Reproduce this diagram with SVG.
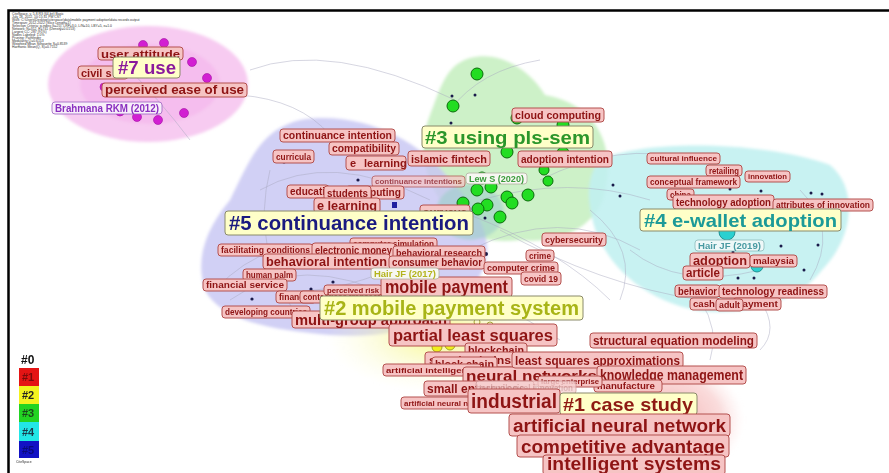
<svg xmlns="http://www.w3.org/2000/svg" width="889" height="473" viewBox="0 0 889 473">
<defs>
<style>
text{font-family:"Liberation Sans",Arial,sans-serif;font-weight:bold}
.lb rect{fill:#f6c4c4;stroke:#b4504e;stroke-width:1}
.lb text{fill:#8e1414}
.cl rect{fill:#ffffc8;stroke:#8a8a6a;stroke-width:1}
.au rect{fill:#f7f7f2;stroke:#b0b0a0;stroke-width:0.8}
.hd{font-family:"Liberation Sans",Arial,sans-serif;font-weight:normal;font-size:3.4px;fill:#333}
.con path{fill:none;stroke:#a8a8c0;stroke-width:0.8;opacity:0.6}
.dot{fill:#1a1a4a}
.gn{fill:#22dd22;stroke:#0a6a0a;stroke-width:1}
.mg{fill:#d21fd2;stroke:#a010a0;stroke-width:0.6}
</style>
<radialGradient id="gy" cx="0.5" cy="0.5" r="0.5"><stop offset="0" stop-color="#f6f67a" stop-opacity="0.9"/><stop offset="1" stop-color="#fafad2" stop-opacity="0"/></radialGradient>
<radialGradient id="gr" cx="0.5" cy="0.5" r="0.5"><stop offset="0" stop-color="#ec8a8a" stop-opacity="0.7"/><stop offset="0.7" stop-color="#f5b8b8" stop-opacity="0.5"/><stop offset="1" stop-color="#fbdede" stop-opacity="0"/></radialGradient>
<filter id="sf" x="-10%" y="-10%" width="120%" height="120%"><feGaussianBlur stdDeviation="1.5"/></filter>
</defs>
<rect width="889" height="473" fill="#ffffff"/>

<!-- header -->
<g id="header">
<text class="hd" x="12" y="15">CiteSpace, v. 5.8.R3 (64-bit) Basic</text>
<text class="hd" x="12" y="18">July 18, 2022, 10:15:31 PM CST</text>
<text class="hd" x="12" y="21">WoS: C:\Users\Desktop\citespace\data\mobile payment adoption\data records output</text>
<text class="hd" x="12" y="24">Timespan: 2012-2022 (Slice Length=1)</text>
<text class="hd" x="12" y="27">Selection Criteria: g-index (k=25), LRF=3.0, L/N=10, LBY=5, e=1.0</text>
<text class="hd" x="12" y="30">Network: N=312, E=741 (Density=0.0153)</text>
<text class="hd" x="12" y="33">Largest CC: 287 (91%)</text>
<text class="hd" x="12" y="36">Nodes Labeled: 1.0%</text>
<text class="hd" x="12" y="39">Pruning: Pathfinder</text>
<text class="hd" x="12" y="42">Modularity Q=0.6153</text>
<text class="hd" x="12" y="45">Weighted Mean Silhouette S=0.8539</text>
<text class="hd" x="12" y="48">Harmonic Mean(Q, S)=0.7152</text>
</g>

<!-- cluster areas -->
<g id="areas" filter="url(#sf)">
<ellipse cx="148" cy="84" rx="100" ry="58" fill="#f6c2ef" opacity="0.85"/>
<ellipse cx="150" cy="84" rx="70" ry="40" fill="#f3b0ec" opacity="0.5"/>
<path d="M470 58 C500 50 530 70 545 95 C600 105 615 150 605 190 C600 225 560 245 520 240 C480 245 445 230 440 200 C420 170 420 140 430 115 C440 90 445 65 470 58 Z" fill="#c4efbe" opacity="0.85"/>
<path d="M300 120 C360 110 420 140 450 180 C480 210 505 250 470 290 C440 322 400 340 330 335 C270 330 220 320 205 290 C195 260 205 230 230 200 C250 160 260 130 300 120 Z" fill="#c9c8f3" opacity="0.85"/>
<ellipse cx="470" cy="212" rx="34" ry="28" fill="#9fcfc9" opacity="0.6"/>
<path d="M600 160 C640 140 760 140 830 165 C860 190 852 240 822 270 C800 300 750 316 700 311 C650 302 612 272 596 232 C586 202 586 176 600 160 Z" fill="#c2f1f1" opacity="0.9"/>
<ellipse cx="440" cy="335" rx="115" ry="58" fill="url(#gy)"/>
<ellipse cx="665" cy="420" rx="80" ry="62" fill="url(#gr)"/>
</g>

<!-- connectors -->
<g id="connectors" class="con">
<path d="M250 70 Q330 40 455 100"/>
<path d="M240 95 Q300 100 330 135"/>
<path d="M120 60 Q160 100 190 140"/>
<path d="M215 290 Q270 230 350 250"/>
<path d="M240 282 Q300 305 385 272"/>
<path d="M230 300 Q300 250 400 300"/>
<path d="M260 190 Q330 150 430 200"/>
<path d="M270 170 Q250 250 300 320"/>
<path d="M480 200 Q570 175 650 200"/>
<path d="M470 250 Q560 205 640 250"/>
<path d="M500 230 Q600 285 700 300"/>
<path d="M470 215 Q560 250 610 300"/>
<path d="M540 180 Q620 140 690 160"/>
<path d="M590 210 Q640 250 620 300"/>
<path d="M450 110 Q480 70 540 60"/>
<path d="M700 300 Q720 330 710 360"/>
<path d="M760 300 Q780 330 760 350"/>
<path d="M630 250 Q680 290 760 270"/>
<path d="M800 190 Q840 230 810 280"/>
<path d="M430 280 Q500 300 560 340"/>
</g>

<!-- small nodes -->
<g id="nodes-small">
<circle class="mg" cx="143" cy="45" r="4.5"/><circle class="mg" cx="164" cy="43" r="4.5"/>
<circle class="mg" cx="192" cy="62" r="4.5"/><circle class="mg" cx="207" cy="78" r="4.5"/>
<circle class="mg" cx="104" cy="87" r="4"/><circle class="mg" cx="120" cy="112" r="4"/>
<circle class="mg" cx="137" cy="117" r="4.5"/><circle class="mg" cx="158" cy="120" r="4.5"/>
<circle class="mg" cx="184" cy="113" r="4.5"/>
<circle class="gn" cx="477" cy="74" r="6"/><circle class="gn" cx="453" cy="106" r="6"/>
<circle class="gn" cx="517" cy="118" r="6"/><circle class="gn" cx="527" cy="115" r="5"/>
<circle class="gn" cx="563" cy="125" r="6"/><circle class="gn" cx="507" cy="152" r="6"/>
<circle class="gn" cx="563" cy="153" r="6"/><circle class="gn" cx="544" cy="170" r="5"/>
<circle class="gn" cx="548" cy="181" r="5"/><circle class="gn" cx="482" cy="178" r="6"/>
<circle class="gn" cx="477" cy="190" r="6"/><circle class="gn" cx="491" cy="187" r="6"/>
<circle class="gn" cx="507" cy="197" r="6"/><circle class="gn" cx="528" cy="195" r="6"/>
<circle class="gn" cx="487" cy="205" r="6"/><circle class="gn" cx="512" cy="203" r="6"/>
<circle class="gn" cx="463" cy="203" r="6"/><circle class="gn" cx="478" cy="209" r="6"/>
<circle class="gn" cx="500" cy="217" r="6"/>
<circle class="dot" cx="452" cy="96" r="1.5"/><circle class="dot" cx="475" cy="95" r="1.5"/>
<circle class="dot" cx="451" cy="123" r="1.5"/><circle class="dot" cx="485" cy="218" r="1.5"/>
<circle class="dot" cx="333" cy="138" r="1.6"/><circle class="dot" cx="284" cy="162" r="1.6"/>
<circle class="dot" cx="358" cy="180" r="1.6"/><rect x="392" y="202" width="5" height="6" fill="#2020a0"/>
<circle class="dot" cx="405" cy="216" r="1.6"/><circle class="dot" cx="322" cy="247" r="1.6"/>
<circle class="dot" cx="333" cy="282" r="1.6"/><circle class="dot" cx="311" cy="289" r="1.6"/>
<circle class="dot" cx="252" cy="299" r="1.6"/><circle class="dot" cx="486" cy="254" r="2"/>
<circle class="dot" cx="433" cy="307" r="1.6"/>
<circle class="dot" cx="613" cy="185" r="1.5"/><circle class="dot" cx="620" cy="196" r="1.5"/>
<circle class="dot" cx="730" cy="189" r="1.5"/><circle class="dot" cx="761" cy="191" r="1.5"/>
<circle class="dot" cx="811" cy="193" r="1.5"/><circle class="dot" cx="822" cy="194" r="1.5"/>
<circle class="dot" cx="818" cy="245" r="1.5"/><circle class="dot" cx="781" cy="246" r="1.5"/>
<circle class="dot" cx="733" cy="252" r="1.5"/><circle class="dot" cx="804" cy="270" r="1.5"/>
<circle class="dot" cx="738" cy="278" r="1.5"/><circle class="dot" cx="754" cy="278" r="1.5"/>
<circle cx="727" cy="232" r="8" fill="#2ad0d0" stroke="#108080" stroke-width="0.8"/>
<circle cx="757" cy="266" r="6" fill="#2ad0d0" stroke="#108080" stroke-width="0.8"/>
<circle cx="437" cy="347" r="5" fill="#f0f020" stroke="#909010" stroke-width="0.8"/>
<circle cx="450" cy="345" r="5" fill="#f0f020" stroke="#909010" stroke-width="0.8"/>
<circle cx="477" cy="322" r="3" fill="none" stroke="#909010" stroke-width="0.8"/>
<circle cx="490" cy="325" r="3" fill="none" stroke="#909010" stroke-width="0.8"/>
<rect x="655" y="382" width="7" height="6" fill="#e01818"/>
</g>

<!-- cluster #7 -->
<g id="c7">
<g id="n-user-attitude" class="lb"><rect x="98" y="47" width="85" height="13" rx="3"/><text x="101" y="57.5" font-size="11" textLength="79" lengthAdjust="spacingAndGlyphs">user attitude</text></g>
<g id="n-civil" class="lb"><rect x="78" y="66" width="50" height="13" rx="3"/><text x="81" y="76.5" font-size="11">civil s</text></g>
<g id="c7-label" class="cl"><rect x="113" y="57" width="67" height="21" rx="3"/><text x="118" y="74" font-size="18" fill="#8a1a9c" textLength="58" lengthAdjust="spacingAndGlyphs">#7 use</text></g>
<g id="n-peou" class="lb"><rect x="102" y="83" width="145" height="14" rx="3"/><text x="105" y="94.3" font-size="12" textLength="139" lengthAdjust="spacingAndGlyphs">perceived ease of use</text></g>
<g id="n-brahmana"><rect x="52" y="102" width="110" height="12" rx="3" fill="#f8eefa" stroke="#9a60c0" stroke-width="0.8"/><text x="55" y="111.6" font-size="10" fill="#8a30c0" textLength="104" lengthAdjust="spacingAndGlyphs">Brahmana RKM (2012)</text></g>
</g>

<!-- cluster #3 -->
<g id="c3">
<g id="n-cloud" class="lb"><rect x="512" y="108" width="92" height="14" rx="3"/><text x="515" y="118.8" font-size="10.5" textLength="86" lengthAdjust="spacingAndGlyphs">cloud computing</text></g>
<g id="c3-label" class="cl"><rect x="422" y="126" width="171" height="22" rx="3"/><text x="425" y="143.8" font-size="19" fill="#2a962a" textLength="165" lengthAdjust="spacingAndGlyphs">#3 using pls-sem</text></g>
<g id="n-adopt-int" class="lb"><rect x="518" y="151" width="94" height="16" rx="3"/><text x="521" y="163" font-size="11.5" textLength="88" lengthAdjust="spacingAndGlyphs">adoption intention</text></g>
<g id="n-islamic" class="lb"><rect x="408" y="151" width="82" height="15" rx="3"/><text x="411" y="162.5" font-size="11" textLength="76" lengthAdjust="spacingAndGlyphs">islamic fintech</text></g>
</g>

<!-- cluster #5 -->
<g id="c5">
<g id="n-cont-int" class="lb"><rect x="280" y="129" width="115" height="13" rx="3"/><text x="283" y="139.1" font-size="10" textLength="109" lengthAdjust="spacingAndGlyphs">continuance intention</text></g>
<g id="n-compat" class="lb"><rect x="329" y="142" width="70" height="13" rx="3"/><text x="332" y="152.1" font-size="10" textLength="64" lengthAdjust="spacingAndGlyphs">compatibility</text></g>
<g id="n-curricula" class="lb"><rect x="273" y="150" width="41" height="13" rx="3"/><text x="276" y="159.7" font-size="9" textLength="35" lengthAdjust="spacingAndGlyphs">curricula</text></g>
<g id="n-e-learning2" class="lb"><rect x="346" y="156" width="60" height="14" rx="3"/><text font-size="11" y="167"><tspan x="350">e</tspan><tspan x="364">learning</tspan></text></g>
<g id="n-cont-ints" class="lb" opacity="0.75"><rect x="372" y="176" width="93" height="11" rx="3"/><text x="375" y="184.4" font-size="8" textLength="87" lengthAdjust="spacingAndGlyphs">continuance intentions</text></g>
<g id="n-education" class="lb"><rect x="287" y="185" width="42" height="13" rx="3"/><text x="290" y="195.1" font-size="10">education</text></g>
<g id="n-computing" class="lb"><rect x="346" y="186" width="58" height="13" rx="3"/><text x="349" y="196.1" font-size="10" textLength="52" lengthAdjust="spacingAndGlyphs">computing</text></g>
<g id="n-students" class="lb"><rect x="324" y="186" width="47" height="14" rx="3"/><text x="327" y="196.8" font-size="10.5" textLength="41" lengthAdjust="spacingAndGlyphs">students</text></g>
<g id="n-e-learning" class="lb"><rect x="314" y="198" width="66" height="15" rx="3"/><text x="317" y="209.8" font-size="12" textLength="60" lengthAdjust="spacingAndGlyphs">e learning</text></g>
<g id="n-surveys" class="lb"><rect x="420" y="205" width="50" height="14" rx="3"/><text x="423" y="215.9" font-size="11" textLength="44" lengthAdjust="spacingAndGlyphs">surveys</text></g>
<g id="n-lew" class="au"><rect x="466" y="173" width="61" height="11" rx="3"/><text x="469" y="181.7" font-size="9" fill="#3c9c3c" textLength="55" lengthAdjust="spacingAndGlyphs">Lew S (2020)</text></g>
<g id="c5-label" class="cl"><rect x="225" y="211" width="248" height="24" rx="3"/><text x="229" y="230.2" font-size="20" fill="#1a1a80" textLength="240" lengthAdjust="spacingAndGlyphs">#5 continuance intention</text></g>
<g id="n-comp-sim" class="lb"><rect x="350" y="238" width="87" height="11" rx="3"/><text x="353" y="246.6" font-size="8.5" textLength="81" lengthAdjust="spacingAndGlyphs">computer simulation</text></g>
<g id="n-facil" class="lb"><rect x="218" y="244" width="95" height="12" rx="3"/><text x="221" y="253.1" font-size="8.5" textLength="89" lengthAdjust="spacingAndGlyphs">facilitating conditions</text></g>
<g id="n-emoney" class="lb"><rect x="312" y="243" width="83" height="14" rx="3"/><text x="315" y="253.9" font-size="11" textLength="77" lengthAdjust="spacingAndGlyphs">electronic money</text></g>
<g id="n-beh-res" class="lb"><rect x="393" y="246" width="92" height="13" rx="3"/><text x="396" y="255.7" font-size="9" textLength="86" lengthAdjust="spacingAndGlyphs">behavioral research</text></g>
<g id="n-beh-int" class="lb"><rect x="263" y="254" width="127" height="15" rx="3"/><text x="266" y="266.2" font-size="13" textLength="121" lengthAdjust="spacingAndGlyphs">behavioral intention</text></g>
<g id="n-cons-beh" class="lb"><rect x="389" y="256" width="96" height="13" rx="3"/><text x="392" y="266.1" font-size="10" textLength="90" lengthAdjust="spacingAndGlyphs">consumer behavior</text></g>
<g id="n-human-palm" class="lb"><rect x="243" y="269" width="53" height="12" rx="3"/><text x="246" y="278.2" font-size="9" textLength="47" lengthAdjust="spacingAndGlyphs">human palm</text></g>
<g id="n-fin-serv" class="lb"><rect x="203" y="279" width="84" height="12" rx="3"/><text x="206" y="288.1" font-size="8.5" textLength="78" lengthAdjust="spacingAndGlyphs">financial service</text></g>
<g id="n-financial" class="lb"><rect x="276" y="291" width="40" height="12" rx="3"/><text x="279" y="300.1" font-size="8.5">financial</text></g>
<g id="n-contactless" class="lb"><rect x="300" y="291" width="95" height="12" rx="3"/><text x="303" y="300.1" font-size="8.5" textLength="89" lengthAdjust="spacingAndGlyphs">contactless transaction</text></g>
<g id="n-dev-count" class="lb"><rect x="222" y="306" width="88" height="12" rx="3"/><text x="225" y="315.1" font-size="8.5" textLength="82" lengthAdjust="spacingAndGlyphs">developing countries</text></g>
</g>

<!-- isolated labels -->
<g id="misc">
<g id="n-cyber" class="lb"><rect x="542" y="233" width="64" height="13" rx="3"/><text x="545" y="242.9" font-size="9.5" textLength="58" lengthAdjust="spacingAndGlyphs">cybersecurity</text></g>
<g id="n-crime" class="lb"><rect x="526" y="250" width="28" height="11" rx="3"/><text x="529" y="258.7" font-size="9" textLength="22" lengthAdjust="spacingAndGlyphs">crime</text></g>
<g id="n-comp-crime" class="lb"><rect x="484" y="262" width="74" height="12" rx="3"/><text x="487" y="271.4" font-size="9.5" textLength="68" lengthAdjust="spacingAndGlyphs">computer crime</text></g>
<g id="n-covid" class="lb"><rect x="521" y="272" width="40" height="13" rx="3"/><text x="524" y="281.9" font-size="9.5" textLength="34" lengthAdjust="spacingAndGlyphs">covid 19</text></g>
</g>

<!-- cluster #2 -->
<g id="c2">
<g id="n-risk" class="lb"><rect x="324" y="285" width="58" height="10" rx="3"/><text x="327" y="292.9" font-size="8" textLength="52" lengthAdjust="spacingAndGlyphs">perceived risk</text></g>
<g id="n-mobile-pay" class="lb"><rect x="381" y="277" width="131" height="20" rx="3"/><text x="385" y="293" font-size="18" textLength="123" lengthAdjust="spacingAndGlyphs">mobile payment</text></g>
<g id="n-hair17" class="au"><rect x="371" y="268" width="68" height="11" rx="3"/><text x="374" y="276.9" font-size="9.5" fill="#b4b41e" textLength="62" lengthAdjust="spacingAndGlyphs">Hair JF (2017)</text></g>
<g id="n-multigroup" class="lb"><rect x="292" y="311" width="158" height="17" rx="3"/><text x="295" y="324.9" font-size="15" textLength="152" lengthAdjust="spacingAndGlyphs">multi-group approach</text></g>
<g id="c2-label" class="cl"><rect x="320" y="296" width="263" height="24" rx="3"/><text x="324" y="315.2" font-size="20" fill="#a8b416" textLength="255" lengthAdjust="spacingAndGlyphs">#2 mobile payment system</text></g>
<g id="n-pls" class="lb"><rect x="389" y="324" width="168" height="22" rx="3"/><text x="393" y="341.1" font-size="17" textLength="160" lengthAdjust="spacingAndGlyphs">partial least squares</text></g>
<g id="n-blockchain" class="lb"><rect x="465" y="343" width="62" height="14" rx="3"/><text x="468" y="353.8" font-size="10.5" textLength="56" lengthAdjust="spacingAndGlyphs">blockchain</text></g>
<g id="n-supply" class="lb"><rect x="425" y="352" width="90" height="15" rx="3"/><text x="429" y="363.5" font-size="11" textLength="82" lengthAdjust="spacingAndGlyphs">supply chains</text></g>
<g id="n-block-chain" class="lb"><rect x="432" y="357" width="65" height="14" rx="3"/><text x="435" y="367.8" font-size="10.5" textLength="59" lengthAdjust="spacingAndGlyphs">block chain</text></g>
<g id="n-ai" class="lb"><rect x="383" y="364" width="98" height="12" rx="3"/><text x="386" y="372.9" font-size="8" textLength="92" lengthAdjust="spacingAndGlyphs">artificial intelligence</text></g>
</g>

<!-- cluster #1 -->
<g id="c1">
<g id="n-sem" class="lb"><rect x="590" y="333" width="167" height="15" rx="3"/><text x="593" y="344.8" font-size="12" textLength="161" lengthAdjust="spacingAndGlyphs">structural equation modeling</text></g>
<g id="n-neural" class="lb"><rect x="463" y="367" width="137" height="18" rx="3"/><text x="466" y="381.4" font-size="15" textLength="131" lengthAdjust="spacingAndGlyphs">neural networks</text></g>
<g id="n-lsa" class="lb"><rect x="512" y="352" width="171" height="16" rx="3"/><text x="515" y="364.7" font-size="13" textLength="165" lengthAdjust="spacingAndGlyphs">least squares approximations</text></g>
<g id="n-km" class="lb"><rect x="597" y="366" width="149" height="18" rx="3"/><text x="600" y="380.4" font-size="15" textLength="143" lengthAdjust="spacingAndGlyphs">knowledge management</text></g>
<g id="n-manuf" class="lb"><rect x="594" y="380" width="68" height="12" rx="3"/><text x="597" y="389.2" font-size="9" textLength="58" lengthAdjust="spacingAndGlyphs">manufacture</text></g>
<g id="n-large" class="lb"><rect x="538" y="376" width="64" height="11" rx="3"/><text x="541" y="384.4" font-size="8" textLength="58" lengthAdjust="spacingAndGlyphs">large enterprise</text></g>
<g id="n-small" class="lb"><rect x="424" y="381" width="110" height="15" rx="3"/><text x="427" y="392.8" font-size="12">small enterprises</text></g>
<g id="n-techinno" opacity="0.8"><rect x="476" y="381" width="100" height="13" rx="3" fill="#f6d2d2" stroke="#d09a9a"/><text x="479" y="390.5" font-size="8.5" fill="#d4a4a4" textLength="94" lengthAdjust="spacingAndGlyphs">technological innovation</text></g>
<g id="n-ann-small" class="lb"><rect x="401" y="397" width="90" height="12" rx="3"/><text x="404" y="405.9" font-size="8">artificial neural networks</text></g>
<g id="n-industrial" class="lb"><rect x="468" y="389" width="92" height="24" rx="3"/><text x="471" y="408.2" font-size="20" textLength="86" lengthAdjust="spacingAndGlyphs">industrial</text></g>
<g id="c1-label" class="cl"><rect x="560" y="393" width="137" height="22" rx="3"/><text x="563" y="410.8" font-size="19" fill="#8e1a12" textLength="130" lengthAdjust="spacingAndGlyphs">#1 case study</text></g>
<g id="n-ann" class="lb"><rect x="509" y="414" width="221" height="22" rx="3"/><text x="513" y="431.5" font-size="18" textLength="213" lengthAdjust="spacingAndGlyphs">artificial neural network</text></g>
<g id="n-comp-adv" class="lb"><rect x="517" y="435" width="212" height="22" rx="3"/><text x="521" y="452.5" font-size="18" textLength="204" lengthAdjust="spacingAndGlyphs">competitive advantage</text></g>
<g id="n-intel" class="lb"><rect x="543" y="455" width="182" height="20" rx="3"/><text x="547" y="470" font-size="17.5" textLength="174" lengthAdjust="spacingAndGlyphs">intelligent systems</text></g>
</g>

<!-- cluster #4 -->
<g id="c4">
<g id="n-cultural" class="lb"><rect x="647" y="153" width="73" height="11" rx="3"/><text x="650" y="161.4" font-size="8" textLength="67" lengthAdjust="spacingAndGlyphs">cultural influence</text></g>
<g id="n-retailing" class="lb"><rect x="706" y="165" width="36" height="11" rx="3"/><text x="709" y="173.6" font-size="8.5" textLength="30" lengthAdjust="spacingAndGlyphs">retailing</text></g>
<g id="n-innovation" class="lb"><rect x="745" y="171" width="45" height="11" rx="3"/><text x="748" y="179.4" font-size="8" textLength="39" lengthAdjust="spacingAndGlyphs">innovation</text></g>
<g id="n-concept" class="lb"><rect x="647" y="176" width="93" height="12" rx="3"/><text x="650" y="185.1" font-size="8.5" textLength="87" lengthAdjust="spacingAndGlyphs">conceptual framework</text></g>
<g id="n-china" class="lb"><rect x="667" y="189" width="27" height="11" rx="3"/><text x="670" y="197.6" font-size="8.5" textLength="21" lengthAdjust="spacingAndGlyphs">china</text></g>
<g id="n-tech-adopt" class="lb"><rect x="673" y="195" width="101" height="14" rx="3"/><text x="676" y="205.9" font-size="11" textLength="95" lengthAdjust="spacingAndGlyphs">technology adoption</text></g>
<g id="n-attrib" class="lb"><rect x="773" y="199" width="100" height="12" rx="3"/><text x="776" y="208.1" font-size="8.5" textLength="94" lengthAdjust="spacingAndGlyphs">attributes of innovation</text></g>
<g id="c4-label" class="cl"><rect x="640" y="209" width="201" height="22" rx="3"/><text x="644" y="226.8" font-size="19" fill="#1c9a98" textLength="193" lengthAdjust="spacingAndGlyphs">#4 e-wallet adoption</text></g>
<g id="n-hair19" class="au"><rect x="695" y="240" width="69" height="11" rx="3" style="fill:#eef8f8;stroke:#8ababa"/><text x="698" y="248.9" font-size="9.5" fill="#4a9aa2" textLength="63" lengthAdjust="spacingAndGlyphs">Hair JF (2019)</text></g>
<g id="n-adoption" class="lb"><rect x="690" y="253" width="60" height="15" rx="3"/><text x="693" y="265.2" font-size="13" textLength="54" lengthAdjust="spacingAndGlyphs">adoption</text></g>
<g id="n-malaysia" class="lb"><rect x="750" y="255" width="47" height="12" rx="3"/><text x="753" y="264.4" font-size="9.5" textLength="41" lengthAdjust="spacingAndGlyphs">malaysia</text></g>
<g id="n-article" class="lb"><rect x="683" y="266" width="40" height="14" rx="3"/><text x="686" y="277.3" font-size="12" textLength="34" lengthAdjust="spacingAndGlyphs">article</text></g>
<g id="n-behavior" class="lb"><rect x="675" y="285" width="45" height="12" rx="3"/><text x="678" y="294.6" font-size="10" textLength="39" lengthAdjust="spacingAndGlyphs">behavior</text></g>
<g id="n-tech-ready" class="lb"><rect x="719" y="285" width="108" height="13" rx="3"/><text x="722" y="295.3" font-size="10.5" textLength="102" lengthAdjust="spacingAndGlyphs">technology readiness</text></g>
<g id="n-cash" class="lb"><rect x="690" y="298" width="30" height="12" rx="3"/><text x="693" y="307.2" font-size="9" textLength="22" lengthAdjust="spacingAndGlyphs">cash</text></g>
<g id="n-payment" class="lb"><rect x="733" y="298" width="48" height="12" rx="3"/><text x="736" y="307.2" font-size="9" textLength="42" lengthAdjust="spacingAndGlyphs">payment</text></g>
<g id="n-adult" class="lb"><rect x="716" y="299" width="27" height="12" rx="3"/><text x="719" y="308.2" font-size="9" textLength="21" lengthAdjust="spacingAndGlyphs">adult</text></g>
</g>

<!-- legend -->
<g id="legend">
<text x="21" y="364" font-size="12" fill="#111">#0</text>
<rect x="19" y="368" width="20" height="18" fill="#e41414"/>
<rect x="19" y="386" width="20" height="18" fill="#f2f21e"/>
<rect x="19" y="404" width="20" height="18" fill="#22d422"/>
<rect x="19" y="422" width="20" height="19" fill="#22e6e6"/>
<rect x="19" y="441" width="20" height="17" fill="#1212c4"/>
<text x="22" y="381" font-size="11" fill="#7a0a0a">#1</text>
<text x="22" y="399" font-size="11" fill="#222">#2</text>
<text x="22" y="417" font-size="11" fill="#1a4a1a">#3</text>
<text x="22" y="436" font-size="11" fill="#1a3a4a">#4</text>
<text x="22" y="454" font-size="11" fill="#0a0a7a">#5</text>
<text class="hd" x="16" y="463" font-size="3.5">CiteSpace</text>
</g>

<!-- frame -->
<path d="M8.5 473 V10.5 H889" fill="none" stroke="#000" stroke-width="2.5"/>
</svg>
